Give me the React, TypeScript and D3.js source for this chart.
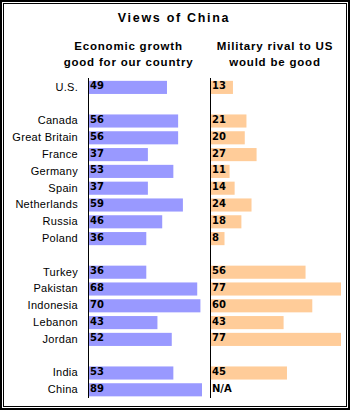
import * as d3 from 'd3';

const countries = [
  'U.S.',
  'Canada', 'Great Britain', 'France', 'Germany', 'Spain', 'Netherlands', 'Russia', 'Poland',
  'Turkey', 'Pakistan', 'Indonesia', 'Lebanon', 'Jordan',
  'India', 'China',
];
// which block each country sits in (blocks are split by an empty row)
const blocks = [0, 1, 1, 1, 1, 1, 1, 1, 1, 2, 2, 2, 2, 2, 3, 3];
const econGood = [49, 56, 56, 37, 53, 37, 59, 46, 36, 36, 68, 70, 43, 52, 53, 89];
const rivalGood: (number | null)[] = [13, 21, 20, 27, 11, 14, 24, 18, 8, 56, 77, 60, 43, 77, 45, null];

const W = 351;
const H = 411;
const BLUE = '#9999ff';
const ORANGE = '#ffcc99';

export default function App() {
  const slots = countries.map((_, i) => i + blocks[i]);
  const nSlots = d3.max(slots)! + 1;

  const y = d3
    .scaleBand<number>()
    .domain(d3.range(nSlots))
    .range([79, 79 + nSlots * 16.8])
    .paddingInner(0.22)
    .paddingOuter(0.11);

  // left panel is capped at the panel edge (China 89 runs off)
  const xL = d3.scaleLinear().domain([0, 71]).range([89, 202]).clamp(true);
  const xR = d3.scaleLinear().domain([0, 77]).range([211, 341]).clamp(true);

  const axisTop = 78;
  const axisBottom = 398;

  const labelFont = { fontFamily: '"Liberation Sans", Arial, sans-serif', fontSize: 11, letterSpacing: 0.3 };
  const valueFont = { fontFamily: '"DejaVu Sans", Verdana, sans-serif', fontSize: 10, fontWeight: 700 };
  const headFont = { fontFamily: '"Liberation Sans", Arial, sans-serif', fontSize: 11.5, fontWeight: 700, letterSpacing: 0.8 };

  return (
    <svg
      width={W}
      height={H}
      style={{ position: 'fixed', left: 0, top: 0, background: '#fff' }}
    >
      <rect x={0} y={0} width={W} height={H} fill="#fff" />
      {/* double frame */}
      <rect x={1} y={1} width={348} height={408} fill="none" stroke="#000" strokeWidth={2} />
      <rect x={3.5} y={3.5} width={343} height={403} fill="none" stroke="#000" strokeWidth={1} />

      <text x={174} y={22} textAnchor="middle" style={{ ...headFont, fontSize: 12.5, letterSpacing: 1.7 }}>
        Views of China
      </text>

      <text x={128.5} y={50} textAnchor="middle" style={headFont}>Economic growth</text>
      <text x={128.5} y={65.5} textAnchor="middle" style={headFont}>good for our country</text>
      <text x={275} y={50} textAnchor="middle" style={headFont}>Military rival to US</text>
      <text x={275} y={65.5} textAnchor="middle" style={headFont}>would be good</text>

      {countries.map((c, i) => {
        const top = y(slots[i])!;
        const bh = y.bandwidth();
        const r = rivalGood[i];
        return (
          <g key={c}>
            <text x={78} y={top + 10} textAnchor="end" style={labelFont}>{c}</text>
            <rect x={xL(0)} y={top} width={xL(econGood[i]) - xL(0)} height={bh} fill={BLUE} />
            <text x={90} y={top + 8.5} style={valueFont}>{econGood[i]}</text>
            {r != null && (
              <rect x={xR(0)} y={top} width={xR(r) - xR(0)} height={bh} fill={ORANGE} />
            )}
            <text x={212} y={top + 8.5} style={valueFont}>{r == null ? 'N/A' : r}</text>
          </g>
        );
      })}

      <line x1={88.5} x2={88.5} y1={axisTop} y2={axisBottom} stroke="#000" strokeWidth={1} />
      <line x1={210.5} x2={210.5} y1={axisTop} y2={axisBottom} stroke="#000" strokeWidth={1} />
    </svg>
  );
}
